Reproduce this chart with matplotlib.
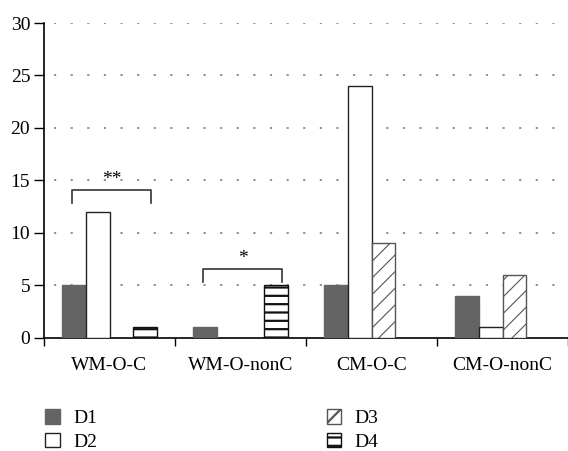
import matplotlib
matplotlib.use("Agg")
import matplotlib.pyplot as plt
from matplotlib.patches import Patch
import numpy as np

plt.rcParams['font.family'] = ['Liberation Serif', 'DejaVu Serif']

categories = ["WM-O-C", "WM-O-nonC", "CM-O-C", "CM-O-nonC"]
series_names = ["D1", "D2", "D3", "D4"]
d1 = [5, 1, 5, 4]
d2 = [12, 0, 24, 1]
d3 = [0, 0, 9, 6]
d4 = [1, 5, 0, 0]
yticks = [0, 5, 10, 15, 20, 25, 30]

styles = [
    dict(facecolor="#646464", edgecolor="#646464", hatch=None, hlw=1.0),
    dict(facecolor="white", edgecolor="#222222", hatch=None, hlw=1.0),
    dict(facecolor="white", edgecolor="#555555", hatch="//", hlw=0.8),
    dict(facecolor="white", edgecolor="#111111", hatch="--", hlw=1.6),
]

fig = plt.figure(figsize=(5.68, 4.51), dpi=100)
ax = fig.add_axes([0.0775, 0.2506, 0.9225, 0.6984])

x = np.arange(len(categories)) + 0.5
w = 0.183
handles = []
for i, (name, vals, st) in enumerate(zip(series_names, [d1, d2, d3, d4], styles)):
    plt.rcParams['hatch.linewidth'] = st["hlw"]
    bars = ax.bar(x + (i - 1.5) * w, vals, width=w, facecolor=st["facecolor"],
                  edgecolor=st["edgecolor"], hatch=st["hatch"], linewidth=1.0,
                  zorder=3)
    for b in bars:
        if b.get_height() == 0:
            b.set_visible(False)
        try:
            b.set_hatch_linewidth(st["hlw"])
        except AttributeError:
            pass
    h = Patch(facecolor=st["facecolor"], edgecolor=st["edgecolor"],
              hatch=st["hatch"], linewidth=1.0)
    try:
        h.set_hatch_linewidth(st["hlw"])
    except AttributeError:
        pass
    handles.append(h)

ax.set_xlim(0, 4)
ax.set_ylim(0, 30)
ax.set_yticks(yticks)
ax.set_yticklabels([str(t) for t in yticks], fontsize=14)
ax.set_xticks([0, 1, 2, 3, 4])
ax.set_xticklabels([])
ax.set_xticks(x, minor=True)
ax.set_xticklabels(categories, minor=True, fontsize=14)
ax.tick_params(axis="x", which="minor", length=0, pad=14)
ax.tick_params(axis="x", which="major", length=6, direction="out", width=1)
ax.tick_params(axis="y", length=7, direction="out", width=1, pad=3)

for s in ["top", "right"]:
    ax.spines[s].set_visible(False)
ax.spines["left"].set_linewidth(1.2)
ax.spines["bottom"].set_linewidth(1.2)

for t in yticks[1:]:
    ax.axhline(t, color="#888888", linestyle=(0, (1.2, 8)), linewidth=1.3, zorder=1,
               xmin=0.02)

# significance brackets
def bracket(x0, x1, y_top, y_bot, label):
    ax.plot([x0, x0, x1, x1], [y_bot, y_top, y_top, y_bot], color="#333333",
            linewidth=1.2, zorder=4, clip_on=False)
    ax.text((x0 + x1) / 2, y_top + 0.15, label, ha="center", va="bottom",
            fontsize=14, zorder=4)

bracket(0.214, 0.817, 14.1, 12.86, "**")
bracket(1.214, 1.817, 6.57, 5.33, "*")

leg = fig.legend(handles=handles, labels=series_names, ncol=2, frameon=False,
                 loc="upper left", bbox_to_anchor=(0.0656, 0.1095),
                 fontsize=14, handlelength=0.75, handleheight=0.75,
                 handletextpad=0.7, columnspacing=11.8, labelspacing=0.3,
                 borderaxespad=0)

fig.savefig("out.png", dpi=100)
